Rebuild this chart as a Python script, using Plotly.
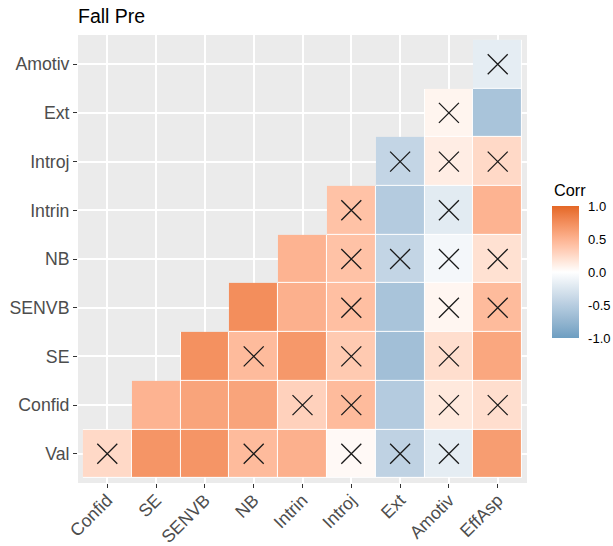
import plotly.graph_objects as go

# ---------------- data ----------------
x_vars = ["Confid", "SE", "SENVB", "NB", "Intrin", "Introj", "Ext", "Amotiv", "EffAsp"]
y_vars = ["Val", "Confid", "SE", "SENVB", "NB", "Intrin", "Introj", "Ext", "Amotiv"]

corr_Val    = [0.25, 0.70, 0.70, 0.45, 0.52, 0.04, -0.45, -0.18, 0.65]
corr_Confid = [None, 0.50, 0.60, 0.60, 0.30, 0.45, -0.52, 0.15, 0.22]
corr_SE     = [None, None, 0.73, 0.45, 0.68, 0.35, -0.65, 0.22, 0.58]
corr_SENVB  = [None, None, None, 0.75, 0.52, 0.42, -0.60, 0.06, 0.45]
corr_NB     = [None, None, None, None, 0.50, 0.40, -0.42, -0.08, 0.20]
corr_Intrin = [None, None, None, None, None, 0.40, -0.52, -0.20, 0.50]
corr_Introj = [None, None, None, None, None, None, -0.42, 0.12, 0.25]
corr_Ext    = [None, None, None, None, None, None, None, 0.07, -0.60]
corr_Amotiv = [None, None, None, None, None, None, None, None, -0.18]

# 1 = not significant (drawn with a cross)
insig_Val    = [1, 0, 0, 1, 0, 1, 1, 1, 0]
insig_Confid = [0, 0, 0, 0, 1, 1, 0, 1, 1]
insig_SE     = [0, 0, 0, 1, 0, 1, 0, 1, 0]
insig_SENVB  = [0, 0, 0, 0, 0, 1, 0, 1, 1]
insig_NB     = [0, 0, 0, 0, 0, 1, 1, 1, 1]
insig_Intrin = [0, 0, 0, 0, 0, 1, 0, 1, 0]
insig_Introj = [0, 0, 0, 0, 0, 0, 1, 1, 1]
insig_Ext    = [0, 0, 0, 0, 0, 0, 0, 1, 0]
insig_Amotiv = [0, 0, 0, 0, 0, 0, 0, 0, 1]

legend_ticks = [1.0, 0.5, 0.0, -0.5, -1.0]
legend_labels = ["1.0", "0.5", "0.0", "-0.5", "-1.0"]

corr_rows = [corr_Val, corr_Confid, corr_SE, corr_SENVB, corr_NB,
             corr_Intrin, corr_Introj, corr_Ext, corr_Amotiv]
insig_rows = [insig_Val, insig_Confid, insig_SE, insig_SENVB, insig_NB,
              insig_Intrin, insig_Introj, insig_Ext, insig_Amotiv]

# ---------------- colour scale (Lab interpolation like ggplot2) ----------------
def _lin(c):
    c = c / 255.0
    return c / 12.92 if c <= 0.04045 else ((c + 0.055) / 1.055) ** 2.4

def _unlin(c):
    c = 12.92 * c if c <= 0.0031308 else 1.055 * c ** (1 / 2.4) - 0.055
    return max(0, min(255, round(c * 255)))

WX, WY, WZ = 0.95047, 1.0, 1.08883

def _f(t):
    return t ** (1 / 3) if t > 216 / 24389 else (24389 / 27 * t + 16) / 116

def _finv(t):
    return t ** 3 if t ** 3 > 216 / 24389 else (116 * t - 16) / (24389 / 27)

def hex2lab(h):
    r, g, b = [_lin(int(h[i:i + 2], 16)) for i in (1, 3, 5)]
    X = 0.4124 * r + 0.3576 * g + 0.1805 * b
    Y = 0.2126 * r + 0.7152 * g + 0.0722 * b
    Z = 0.0193 * r + 0.1192 * g + 0.9505 * b
    fx, fy, fz = _f(X / WX), _f(Y / WY), _f(Z / WZ)
    return (116 * fy - 16, 500 * (fx - fy), 200 * (fy - fz))

def lab2rgb(L, a, b):
    fy = (L + 16) / 116
    fx = fy + a / 500
    fz = fy - b / 200
    X, Y, Z = WX * _finv(fx), WY * _finv(fy), WZ * _finv(fz)
    r = 3.2406 * X - 1.5372 * Y - 0.4986 * Z
    g = -0.9689 * X + 1.8758 * Y + 0.0415 * Z
    bb = 0.0557 * X - 0.2040 * Y + 1.0570 * Z
    return "rgb(%d,%d,%d)" % (_unlin(max(r, 0)), _unlin(max(g, 0)), _unlin(max(bb, 0)))

low, mid, high = hex2lab("#6D9EC1"), hex2lab("#FFFFFF"), hex2lab("#E46726")
colorscale = []
n = 20
for i in range(n + 1):
    t = i / n
    if t <= 0.5:
        u = t / 0.5
        c1, c2 = low, mid
    else:
        u = (t - 0.5) / 0.5
        c1, c2 = mid, high
    lab = [c1[k] + (c2[k] - c1[k]) * u for k in range(3)]
    colorscale.append([t, lab2rgb(*lab)])

# ---------------- figure ----------------
FONT = "Liberation Sans, Arial, Helvetica, sans-serif"
W, H = 613, 546
ML, MR, MT, MB = 78, 86, 35, 63
PW, PH = W - ML - MR, H - MT - MB

fig = go.Figure()

# white underlay (tile outlines)
under = [[0 if v is not None else None for v in row] for row in corr_rows]
fig.add_trace(go.Heatmap(
    x=x_vars, y=y_vars, z=under, colorscale=[[0, "white"], [1, "white"]],
    showscale=False, hoverinfo="skip"))

bar_left, bar_top, bar_bottom = 552, 206, 338
fig.add_trace(go.Heatmap(
    x=x_vars, y=y_vars, z=corr_rows, zmin=-1, zmax=1, colorscale=colorscale,
    xgap=1, ygap=1, hoverinfo="skip",
    colorbar=dict(
        x=(bar_left - ML) / PW, xanchor="left", xpad=0,
        y=1 - ((bar_top + bar_bottom) / 2 - MT) / PH, yanchor="middle", ypad=0,
        thickness=27, lenmode="pixels", len=bar_bottom - bar_top, outlinewidth=0,
        tickvals=legend_ticks, ticktext=legend_labels,
        ticks="outside", ticklen=7, tickcolor="rgba(0,0,0,0)",
        tickfont=dict(size=13, color="black", family=FONT),
    )))

xs, ys = [], []
for yi, row in enumerate(insig_rows):
    for xi, flag in enumerate(row):
        if flag and corr_rows[yi][xi] is not None:
            xs.append(x_vars[xi])
            ys.append(y_vars[yi])
fig.add_trace(go.Scatter(
    x=xs, y=ys, mode="markers", hoverinfo="skip", showlegend=False,
    marker=dict(symbol="x-thin", size=20, color="#1a1a1a",
                line=dict(width=1.3, color="#1a1a1a"))))

axis_common = dict(
    type="category", showgrid=True, gridcolor="white", gridwidth=2,
    zeroline=False, showline=False, ticks="outside", ticklen=4,
    tickwidth=1, tickcolor="#333333", automargin=False,
    tickfont=dict(size=17.7, color="#4D4D4D", family=FONT),
    range=[-0.6, 8.6], fixedrange=True)

fig.update_layout(
    width=W, height=H, autosize=False,
    margin=dict(l=ML, r=MR, t=MT, b=MB, autoexpand=False),
    paper_bgcolor="white", plot_bgcolor="#EBEBEB",
    font=dict(family=FONT),
    title=dict(text="Fall Pre", x=0, xref="paper", xanchor="left",
               y=1 - 16 / H, yref="container", yanchor="middle",
               font=dict(size=19.5, color="black", family=FONT)),
    xaxis=dict(axis_common, categoryorder="array", categoryarray=x_vars,
               tickangle=-45, ticklabelstandoff=-5),
    yaxis=dict(axis_common, categoryorder="array", categoryarray=y_vars),
    showlegend=False,
    annotations=[dict(text="Corr", xref="paper", yref="paper",
                      x=(bar_left - ML) / PW, xanchor="left",
                      y=1 - (190 - MT) / PH, yanchor="middle", showarrow=False,
                      font=dict(size=16.3, color="black", family=FONT))],
)

fig.write_html(
    "out.html",
    config={"displayModeBar": False, "responsive": False},
    post_script="document.body.style.margin='0';document.body.style.overflow='hidden';",
)
